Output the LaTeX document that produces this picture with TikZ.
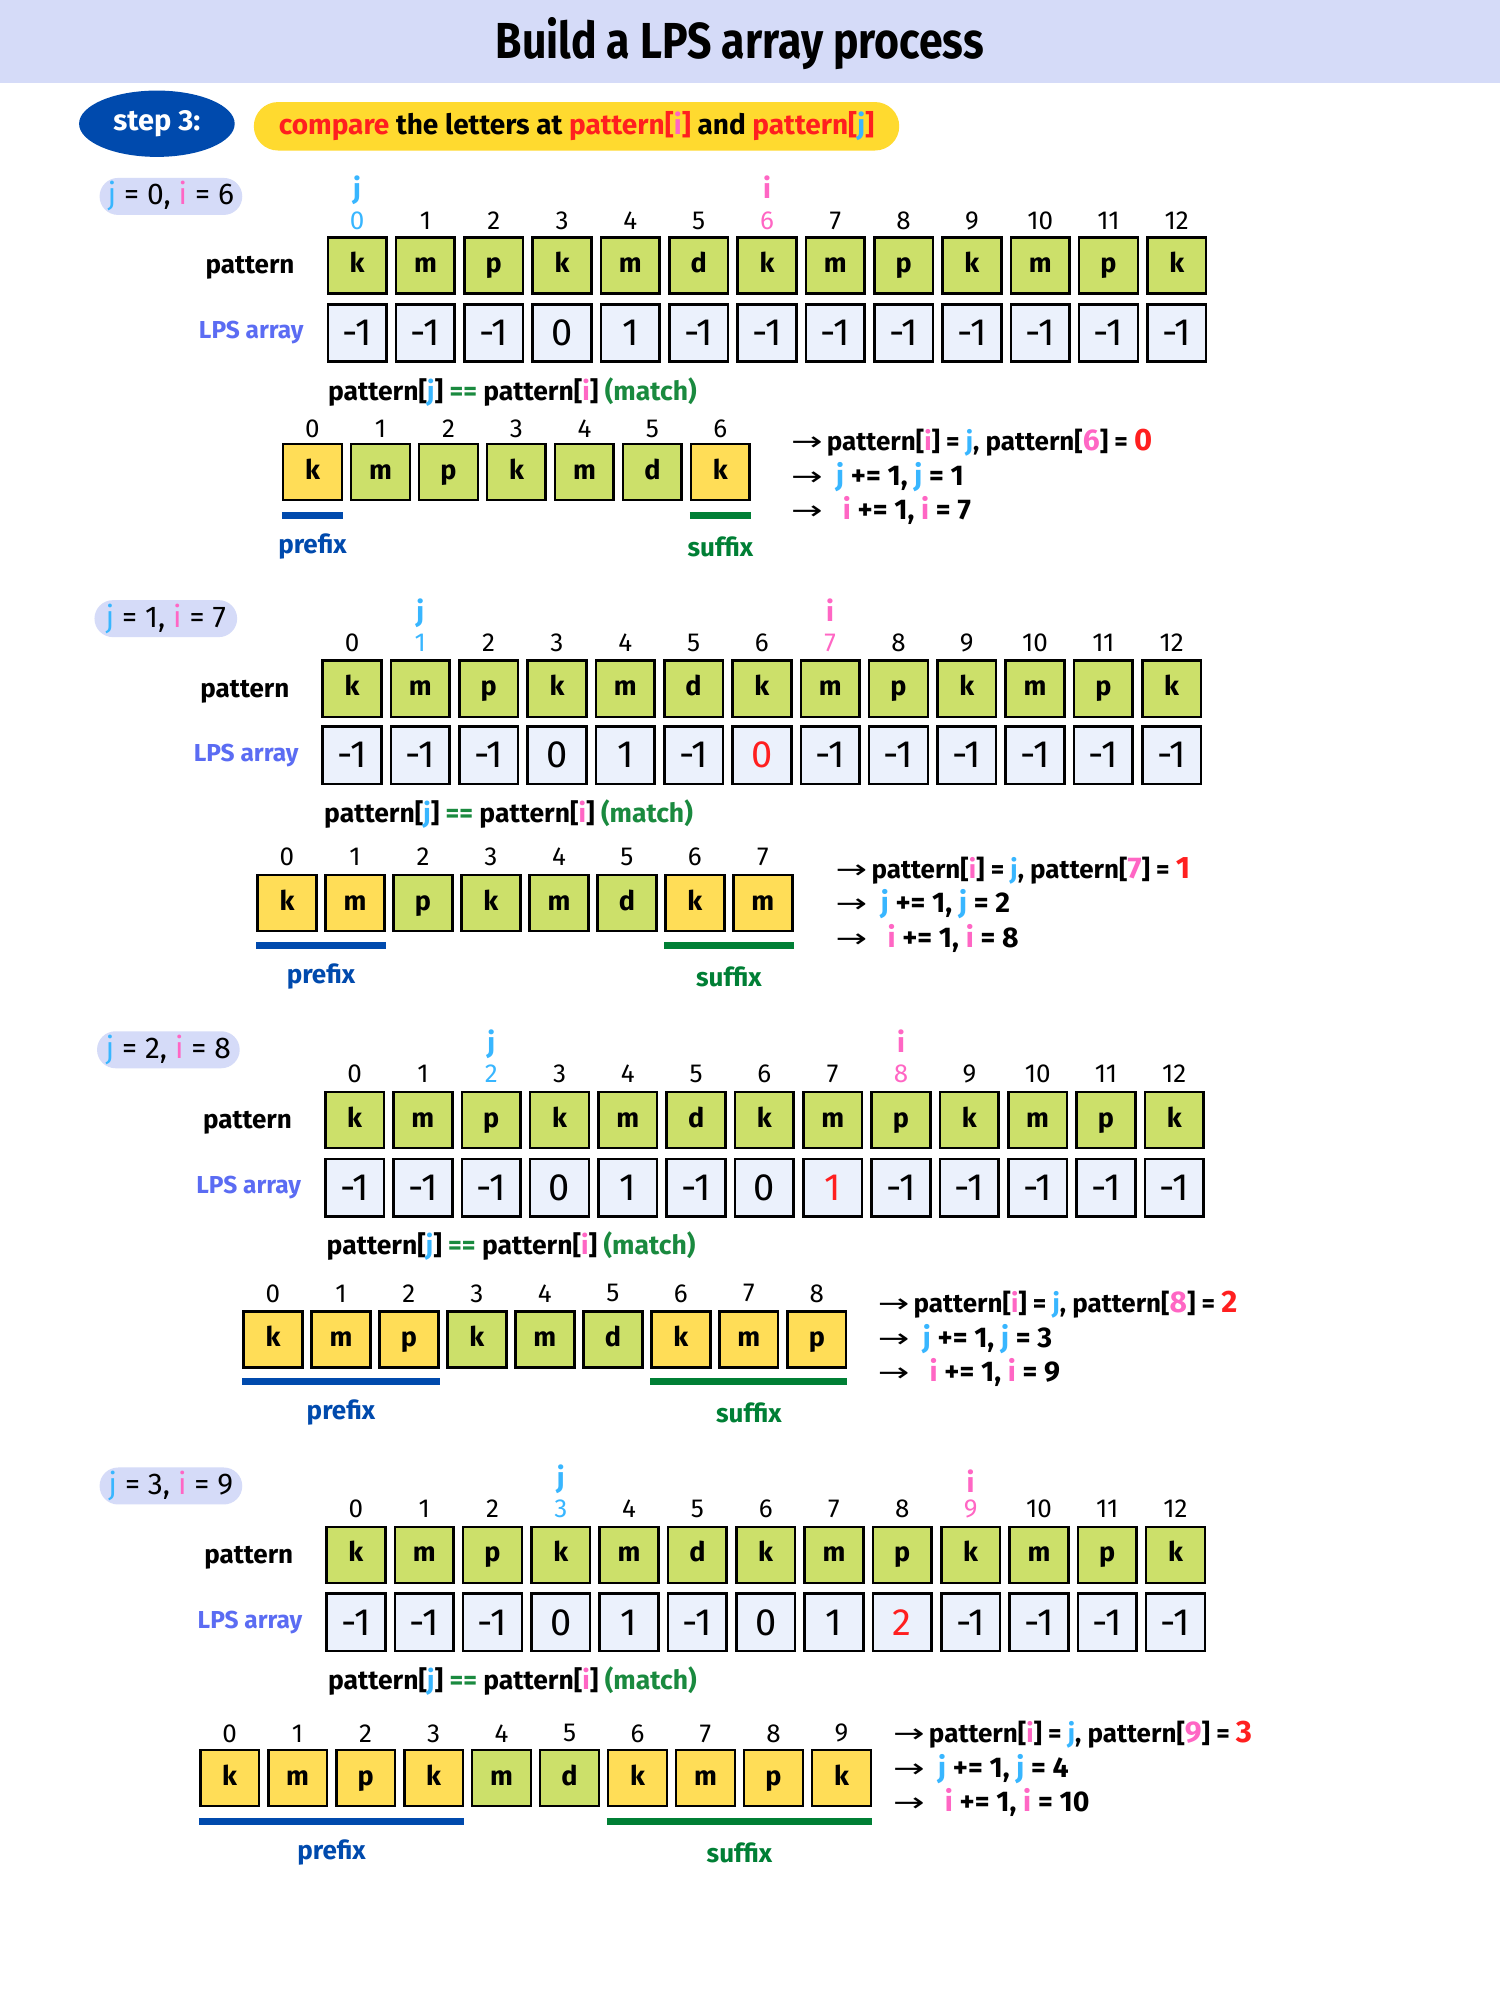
\documentclass[tikz,border=0pt]{standalone}
\usepackage{fontspec}
\setmainfont{Fira Sans}
\newfontfamily\arrowf{DejaVu Sans}
\usetikzlibrary{shapes.geometric,shapes.misc,calc}
\definecolor{band}{HTML}{D5DBF8}
\definecolor{stepblue}{HTML}{004AAD}
\definecolor{baryellow}{HTML}{FFDA2F}
\definecolor{patgreen}{HTML}{CCE06A}
\definecolor{lpsfill}{HTML}{EBF1FC}
\definecolor{subyellow}{HTML}{FFDD57}
\definecolor{sufgreen}{HTML}{007F35}
\definecolor{jcol}{HTML}{38B6FF}
\definecolor{icol}{HTML}{FF66C4}
\definecolor{redc}{HTML}{FF1F1F}
\definecolor{lpsviolet}{HTML}{5B6CF3}
\definecolor{matchgreen}{HTML}{1A8A3F}
\newcommand\fs[1]{\fontsize{#1}{#1}\selectfont}
\newcommand\cR[1]{\textcolor{redc}{#1}}
\newcommand\cI[1]{\textcolor{icol}{#1}}
\newcommand\cJ[1]{\textcolor{jcol}{#1}}
\newcommand\cG[1]{\textcolor{matchgreen}{#1}}
\newcommand\rarr{{\fs{26}\arrowf\mdseries\scalebox{1.45}[1]{→}}}
\newcommand\setsecA[9]{\def\Sid{#1}\def\Ss{#2}\def\PX{#3}\def\PY{#4}\def\MX{#5}\def\JY{#6}\def\IY{#7}\def\IDY{#8}\def\PATY{#9}}
\newcommand\setsecB[9]{\def\LPSY{#1}\def\MATX{#2}\def\MATY{#3}\def\SIDY{#4}\def\SX{#5}\def\SY{#6}\def\BY{#7}\def\RX{#8}\def\RA{#9}}
\newcommand\setsecC[2]{\def\RB{#1}\def\RC{#2}}
\tikzset{
 patbox/.style={draw=black, line width=2.6pt, fill=patgreen, minimum width={46*1.2755pt}, minimum height={44*1.2755pt}, inner sep=0pt, font=\fs{27}\bfseries, text height=20pt, text depth=5.8pt},
 lpsbox/.style={draw=black, line width=2.6pt, fill=lpsfill, minimum width={46*1.2755pt}, minimum height={45*1.2755pt}, inner sep=0pt, font=\fs{38}},
 idx/.style={font=\fs{26}, inner sep=0pt},
 ptr/.style={font=\fs{28}\bfseries, inner sep=0pt},
 pill/.style={rounded rectangle, fill=band, minimum width={115*1.2755pt}, minimum height={29*1.2755pt}, inner sep=2pt, font=\fs{30}},
 rowlab/.style={font=\fs{26}\bfseries, inner sep=0pt},
 lpslab/.style={font=\fs{24.5}\bfseries, inner sep=0pt, text=lpsviolet},
 matchtext/.style={anchor=west, inner sep=0pt, font=\fs{26.5}\bfseries},
 pbar/.style={line width=7pt, draw=stepblue},
 sbar/.style={line width=7pt, draw=sufgreen},
 bartext/.style={yshift=-31.5pt, font=\fs{26}\bfseries, inner sep=0pt},
 rtext/.style={anchor=west, inner sep=0pt, font=\fs{26}\bfseries},
 rtextb/.style={anchor=west, inner sep=0pt, font=\fs{28.5}\bfseries},
}
\newcommand\lpsblock{%
 \pgfmathtruncatemacro\Jv{\Ss}%
 \pgfmathtruncatemacro\Iv{6+\Ss}%
 \pgfmathtruncatemacro\Jn{\Ss+1}%
 \pgfmathtruncatemacro\In{7+\Ss}%
 \pgfmathtruncatemacro\Nsub{6+\Ss}%
 \node[pill] (\Sid pill) at (\PX,\PY) {\cJ{j} = \Jv, \cI{i} = \Iv};
 \node[rowlab] (\Sid patlab) at (\MX-84,\PATY+2) {pattern};
 \node[lpslab] (\Sid lpslab) at (\MX-83,\LPSY) {LPS array};
 \foreach \k/\ch/\b in {0/k/-1,1/m/-1,2/p/-1,3/k/0,4/m/1,5/d/-1,6/k/-1,7/m/-1,8/p/-1,9/k/-1,10/m/-1,11/p/-1,12/k/-1}{
  \pgfmathtruncatemacro\val{(\k>5 && \k<6+\Ss) ? \k-6 : \b}
  \pgfmathtruncatemacro\isred{(\Ss>0 && \k==5+\Ss) ? 1 : 0}
  \ifnum\isred=1 \def\vc{redc}\else\def\vc{black}\fi
  \ifnum\k=\Jv \def\ic{jcol}\else\ifnum\k=\Iv \def\ic{icol}\else\def\ic{black}\fi\fi
  \node[patbox] (\Sid p\k) at ({\MX+53.55*\k},\PATY) {\ch};
  \node[lpsbox,text=\vc] (\Sid l\k) at ({\MX+53.55*\k},\LPSY) {\val};
  \node[idx,text=\ic] (\Sid i\k) at ({\MX+53.55*\k},\IDY) {\k};
 }
 \node[ptr,text=jcol] (\Sid jl) at ({\MX+53.55*\Jv},\JY+1) {j};
 \node[ptr,text=icol] (\Sid il) at ({\MX+53.55*\Iv},\IY+1) {i};
 \node[matchtext] (\Sid match) at (\MATX,\MATY) {pattern[\cJ{j}] \cG{==} pattern[\cI{i}] \cG{(match)}};
 \foreach \k/\ch in {0/k,1/m,2/p,3/k,4/m,5/d,6/k,7/m,8/p,9/k}{
  \ifnum\k>\Nsub\else
   \pgfmathtruncatemacro\isy{(\k<=\Ss || \k>=6) ? 1 : 0}
   \ifnum\isy=1 \def\fc{subyellow}\else\def\fc{patgreen}\fi
   \node[patbox,fill=\fc] (\Sid s\k) at ({\SX+53.3*\k},\SY) {\ch};
   \node[idx] (\Sid t\k) at ({\SX+53.3*\k},\SIDY) {\k};
  \fi
 }
 \coordinate (\Sid BY) at (0,\BY);
 \draw[pbar] (\Sid s0.west |- \Sid BY) -- (\Sid s\Ss.east |- \Sid BY) node[midway,bartext,text=stepblue] (\Sid pre) {prefix};
 \draw[sbar] (\Sid s6.west |- \Sid BY) -- (\Sid s\Nsub.east |- \Sid BY) node[midway,bartext,text=sufgreen] (\Sid suf) {suffix};
 \node[rtext] (\Sid ra) at (\RX,\RA) {\rarr\,pattern[\cI{i}] = \cJ{j}, pattern[{\fs{30}\cI{\Iv}}] = {\fs{31}\cR{\Jv}}};
 \node[rtextb] (\Sid rb) at (\RX,\RB) {\rarr\ \ \cJ{j} += 1, \cJ{j} = \Jn};
 \node[rtextb] (\Sid rc) at (\RX,\RC) {\rarr\ \ \ \cI{i} += 1, \cI{i} = \In};
}
\begin{document}
\begin{tikzpicture}[x=1.2755pt, y=-1.2755pt]
\useasboundingbox (0,0) rectangle (1176,1568);
\fill[white] (0,0) rectangle (1176,1568);
\fill[band] (0,0) rectangle (1176,65);
\node[font=\fs{46}\bfseries] (title) at (580,34) {\scalebox{0.93}[1.1]{Build a LPS array process}};
\node[ellipse, fill=stepblue, minimum width={122*1.2755pt}, minimum height={52*1.2755pt}, inner sep=0pt, text=white, font=\fs{29}\bfseries] (step) at (123,97) {step 3:};
\node[rounded rectangle, fill=baryellow, minimum width={506*1.2755pt}, minimum height={38*1.2755pt}, inner sep=0pt, font=\fs{28}\bfseries] (task) at (452,99) {\cR{compare} the letters at \cR{pattern[}\cI{i}\cR{]} and \cR{pattern[}\cJ{j}\cR{]}};
\setsecA{A}{0}{134}{154}{280}{148}{146}{173}{208}
\setsecB{261}{257}{307}{336}{245}{370}{404}{620}{347}
\setsecC{374}{400}
\lpsblock
\setsecA{B}{1}{130}{485}{276}{480}{477}{504}{540}
\setsecB{592}{254}{638}{672}{225}{708}{741}{655}{683}
\setsecC{709}{736}
\lpsblock
\setsecA{C}{2}{132}{823}{278}{818}{815}{842}{878}
\setsecB{931}{256}{977}{1014}{214}{1050}{1083}{688}{1023}
\setsecC{1050}{1076}
\lpsblock
\setsecA{D}{3}{134}{1165}{279}{1159}{1160}{1183}{1219}
\setsecB{1272}{257}{1318}{1359}{180}{1394}{1428}{700}{1360}
\setsecC{1387}{1413}
\lpsblock
\end{tikzpicture}
\end{document}
